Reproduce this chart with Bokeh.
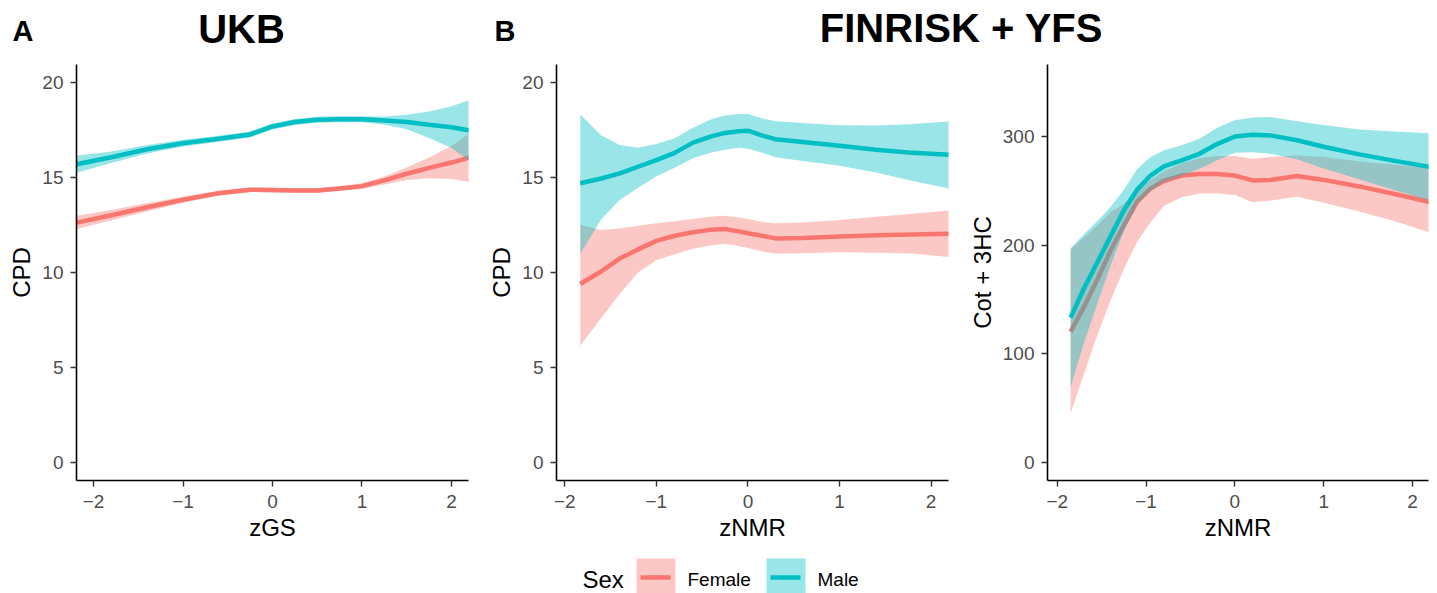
from bokeh.plotting import figure
from bokeh.layouts import column, row
from bokeh.models import Range1d, FixedTicker, CustomJSTickFormatter
from bokeh.embed import file_html
from bokeh.resources import INLINE
from bokeh.core.properties import value

FONT = "Liberation Sans"

# ---------------- data ----------------
sex_levels = ["Female", "Male"]
sex_colors = ["#F8766D", "#00BFC4"]

# Panel A: UKB, CPD vs zGS
ukb_x = [-2.2, -1.8, -1.4, -1.0, -0.6, -0.25, 0.0, 0.25, 0.5, 0.75, 1.0, 1.25, 1.5, 1.75, 2.0, 2.2]
ukb_female = [12.6, 13.0, 13.42, 13.81, 14.16, 14.34, 14.32, 14.3, 14.3, 14.4, 14.53, 14.83, 15.18, 15.49, 15.77, 16.03]
ukb_female_lo = [12.25, 12.73, 13.2, 13.65, 14.03, 14.22, 14.2, 14.18, 14.18, 14.27, 14.38, 14.62, 14.85, 14.95, 14.9, 14.75]
ukb_female_hi = [12.95, 13.27, 13.64, 13.97, 14.29, 14.46, 14.44, 14.42, 14.42, 14.53, 14.68, 15.04, 15.51, 16.03, 16.64, 17.3]
ukb_male = [15.67, 16.05, 16.47, 16.79, 17.02, 17.25, 17.67, 17.9, 18.02, 18.05, 18.05, 17.98, 17.9, 17.76, 17.63, 17.46]
ukb_male_lo = [15.22, 15.75, 16.25, 16.61, 16.86, 17.09, 17.51, 17.74, 17.86, 17.89, 17.89, 17.76, 17.52, 17.06, 16.53, 15.86]
ukb_male_hi = [16.12, 16.35, 16.69, 16.97, 17.18, 17.41, 17.83, 18.06, 18.18, 18.21, 18.21, 18.2, 18.28, 18.46, 18.73, 19.06]

# Panel B (left): FINRISK + YFS, CPD vs zNMR
fy_x = [-1.83, -1.6, -1.4, -1.2, -1.0, -0.8, -0.6, -0.4, -0.25, -0.1, 0.0, 0.15, 0.3, 0.6, 1.0, 1.4, 1.8, 2.2]
fy_female = [9.38, 10.05, 10.72, 11.2, 11.65, 11.92, 12.1, 12.24, 12.27, 12.15, 12.05, 11.92, 11.78, 11.8, 11.88, 11.95, 11.99, 12.02]
fy_female_lo = [6.15, 7.6, 8.85, 9.98, 10.63, 10.95, 11.23, 11.42, 11.5, 11.38, 11.27, 11.1, 10.97, 11.0, 11.05, 11.02, 10.98, 10.8]
fy_female_hi = [12.5, 12.22, 12.3, 12.44, 12.58, 12.68, 12.8, 12.93, 12.97, 12.88, 12.8, 12.65, 12.58, 12.62, 12.75, 12.92, 13.07, 13.25]
fy_male = [14.68, 14.93, 15.2, 15.55, 15.9, 16.28, 16.82, 17.15, 17.33, 17.42, 17.45, 17.2, 17.0, 16.85, 16.65, 16.45, 16.28, 16.18]
fy_male_lo = [10.97, 12.8, 13.8, 14.45, 15.05, 15.5, 16.0, 16.3, 16.45, 16.55, 16.5, 16.3, 16.05, 15.85, 15.6, 15.25, 14.8, 14.4]
fy_male_hi = [18.3, 17.2, 16.7, 16.55, 16.75, 17.05, 17.6, 18.05, 18.25, 18.32, 18.32, 18.1, 17.95, 17.85, 17.73, 17.72, 17.8, 17.93]

# Panel B (right): FINRISK + YFS, Cot + 3HC vs zNMR
cot_x = [-1.85, -1.7, -1.55, -1.4, -1.25, -1.1, -0.95, -0.8, -0.6, -0.4, -0.2, 0.0, 0.2, 0.4, 0.7, 1.0, 1.4, 1.8, 2.2]
cot_female = [120, 143, 168, 195, 218, 240, 252, 259, 264, 265.5, 265.5, 264, 259.5, 260, 263.5, 260, 254, 247, 239.5]
cot_female_lo = [45, 81, 117, 149, 178, 203, 221, 236, 244, 247.5, 247.5, 246, 239.5, 241, 244.5, 239, 231, 222, 211.5]
cot_female_hi = [196, 207, 218, 230, 238, 249, 260, 268, 275, 280, 282, 282, 279.5, 281, 282.5, 281, 277, 274, 271]
cot_male = [133, 160, 184, 208, 232, 251, 264, 272.5, 278, 284, 293, 300, 301.5, 301, 296.5, 290.5, 283.5, 277.5, 272]
cot_male_lo = [69, 110, 146, 181, 213, 238, 250, 258.5, 264, 270, 278, 285, 285.5, 284, 279, 270.5, 260.5, 250.5, 241]
cot_male_hi = [197, 210, 222, 235, 251, 270, 281, 287, 292, 298, 308, 315, 317.5, 318, 314, 310.5, 306.5, 304.5, 303]

x_ticks = [-2, -1, 0, 1, 2]
cpd_ticks = [0, 5, 10, 15, 20]
cot_ticks = [0, 100, 200, 300]

# ---------------- layout constants ----------------
HEADER_H = 64
PANEL_H = 481
LEGEND_H = 48
TOTAL_W = 1437

minus_fmt = CustomJSTickFormatter(code="""
    return tick < 0 ? '\\u2212' + Math.abs(tick) : '' + tick;
""")


def make_panel(width, bl, br, xr, yr, yticks, xlabel, ylabel, series):
    p = figure(width=width, height=PANEL_H, x_range=Range1d(*xr), y_range=Range1d(*yr),
               output_backend="svg", toolbar_location=None,
               min_border_left=bl, min_border_right=br, min_border_top=0, min_border_bottom=65)
    p.outline_line_color = None
    p.grid.visible = False
    for ax in (p.xaxis[0], p.yaxis[0]):
        ax.axis_line_color = "black"
        ax.axis_line_width = 1.6
        ax.major_tick_line_color = "#333333"
        ax.major_tick_line_width = 1.4
        ax.major_tick_out = 6
        ax.major_tick_in = 0
        ax.minor_tick_line_color = None
        ax.major_label_text_font = FONT
        ax.major_label_text_font_size = "19px"
        ax.major_label_text_color = "#4D4D4D"
        ax.axis_label_text_font = FONT
        ax.axis_label_text_font_size = "24px"
        ax.axis_label_text_font_style = "normal"
        ax.axis_label_text_color = "black"
    p.xaxis[0].ticker = FixedTicker(ticks=x_ticks)
    p.xaxis[0].formatter = minus_fmt
    p.xaxis[0].axis_label = xlabel
    p.xaxis[0].major_label_standoff = 8
    p.xaxis[0].axis_label_standoff = 3
    p.yaxis[0].ticker = FixedTicker(ticks=yticks)
    p.yaxis[0].axis_label = ylabel
    p.yaxis[0].major_label_standoff = 7
    p.yaxis[0].axis_label_standoff = 4
    xs = series["x"]
    for sex, col in zip(sex_levels, sex_colors):
        s = series[sex]
        p.varea(x=xs, y1=s["lo"], y2=s["hi"], fill_color=col, fill_alpha=0.4)
        p.line(x=xs, y=s["fit"], line_color=col, line_width=4.5)
    return p


p1 = make_panel(485, 76, 17, (-2.19, 2.19), (-0.96, 20.93), cpd_ticks, "zGS", "CPD",
                {"x": ukb_x,
                 "Female": {"fit": ukb_female, "lo": ukb_female_lo, "hi": ukb_female_hi},
                 "Male": {"fit": ukb_male, "lo": ukb_male_lo, "hi": ukb_male_hi}})
p2 = make_panel(480, 71, 17, (-2.09, 2.19), (-0.96, 20.93), cpd_ticks, "zNMR", "CPD",
                {"x": fy_x,
                 "Female": {"fit": fy_female, "lo": fy_female_lo, "hi": fy_female_hi},
                 "Male": {"fit": fy_male, "lo": fy_male_lo, "hi": fy_male_hi}})
p3 = make_panel(472, 82, 9, (-2.11, 2.18), (-16.9, 366.3), cot_ticks, "zNMR", "Cot + 3HC",
                {"x": cot_x,
                 "Female": {"fit": cot_female, "lo": cot_female_lo, "hi": cot_female_hi},
                 "Male": {"fit": cot_male, "lo": cot_male_lo, "hi": cot_male_hi}})


def blank(height):
    f = figure(width=TOTAL_W, height=height, x_range=Range1d(0, TOTAL_W), y_range=Range1d(height, 0),
               output_backend="svg", toolbar_location=None, x_axis_location=None, y_axis_location=None,
               min_border=0)
    f.outline_line_color = None
    f.grid.visible = False
    return f


# header with panel tags and titles
header = blank(HEADER_H)
header.text(x=[12, 494], y=[30, 30], text=["A", "B"], text_font=value(FONT), text_font_size="29px",
            text_font_style="bold", text_align="left", text_baseline="middle", text_color="black")
header.text(x=[241, 961], y=[28.5, 27.5], text=["UKB", "FINRISK + YFS"], text_font=value(FONT),
            text_font_size="40px", text_font_style="bold", text_align="center",
            text_baseline="middle", text_color="black")

# legend strip
legend = blank(LEGEND_H)
legend.text(x=[582], y=[33.5], text=["Sex"], text_font=value(FONT), text_font_size="24px",
            text_align="left", text_baseline="middle", text_color="black")
key_left = [636, 766]
key_w = 39
legend.quad(left=key_left, right=[k + key_w for k in key_left], top=[13, 13], bottom=[48, 48],
            fill_color=sex_colors, fill_alpha=0.4, line_color=None)
legend.segment(x0=[k + 4 for k in key_left], x1=[k + key_w - 5 for k in key_left], y0=[32, 32], y1=[32, 32],
               line_color=sex_colors, line_width=4.5)
legend.text(x=[k + key_w + 12 for k in key_left], y=[33.5, 33.5], text=sex_levels, text_font=value(FONT),
            text_font_size="19px", text_align="left", text_baseline="middle", text_color="black")

layout = column(header, row(p1, p2, p3), legend)

open("out.html", "w").write(file_html(layout, INLINE))
